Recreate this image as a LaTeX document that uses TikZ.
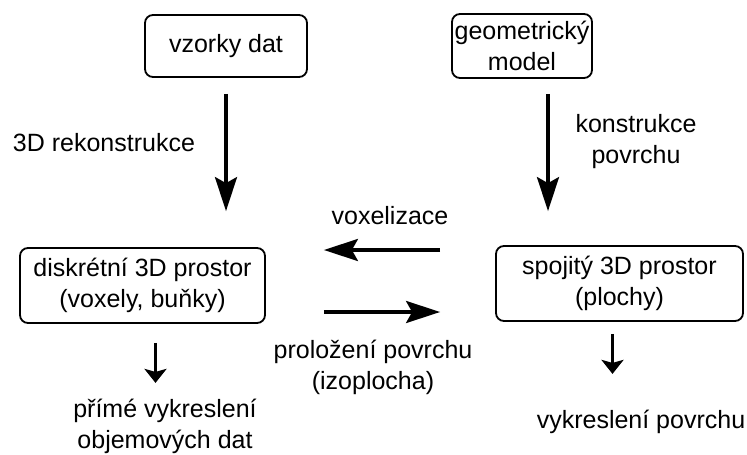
\documentclass[tikz,border=0pt]{standalone}
\usepackage{fontspec}
\setmainfont{Liberation Sans}
\usetikzlibrary{arrows.meta,positioning}
\tikzset{
  box/.style={ % rounded box of one kind of data
    draw, rectangle, rounded corners=8pt, line width=1.8pt,
    align=center, inner sep=2pt, text=black
  },
  txt/.style={ % free text next to an arrow
    align=center, inner sep=0pt, text=black
  },
  bigarrow/.style={ % long transition arrow
    line width=3.4pt, -{Stealth[length=34pt,width=22pt,inset=6pt]}
  },
  smallarrow/.style={ % short arrow to the output
    line width=2.8pt, -{Stealth[length=14pt,width=22pt,inset=3pt]}
  }
}

\begin{document}
\begin{tikzpicture}[
      x=1pt, y=-1pt, font=\fontsize{25}{31}\selectfont
    ]
      \useasboundingbox (0,0) rectangle (747,455);

      \node[box, minimum width=162pt, minimum height=62pt] (A) at (226,46) {vzorky dat};
      \node[box, minimum width=140pt, minimum height=64pt] (B) at (522,46) {geometrický\\model};
      \node[box, minimum width=245pt, minimum height=75pt] (C) at (142.5,285.5) {diskrétní 3D prostor\\(voxely, buňky)};
      \node[box, minimum width=247pt, minimum height=75pt] (D) at (619.5,283.5) {spojitý 3D prostor\\(plochy)};

      \node[txt] (rek_text) at (104,143) {3D rekonstrukce};
      \node[txt] (kon_text) at (636,142) {konstrukce\\povrchu};
      \node[txt] (vox_text) at (390,216) {voxelizace};
      \node[txt] (izo_text) at (373,367) {proložení povrchu\\(izoplocha)};
      \node[txt] (dvr_text) at (165,426) {přímé vykreslení\\objemových dat};
      \node[txt] (sr_text) at (641,422) {vykreslení povrchu};

      \coordinate (vox_y) at (0,250);
      \coordinate (izo_y) at (0,312);

      \draw[bigarrow, shorten <=16pt, shorten >=36pt] (A.south) -- (A.south |- C.north);
      \draw[bigarrow, shorten <=15pt, shorten >=34pt] ([xshift=26pt]B.south) -- ([xshift=26pt]B.south |- D.north);
      \draw[bigarrow, shorten <=55pt, shorten >=58pt] (D.west |- vox_y) -- (C.east |- vox_y);
      \draw[bigarrow, shorten <=58pt, shorten >=55pt] (C.east |- izo_y) -- (D.west |- izo_y);
      \draw[smallarrow, shorten <=19pt] ([xshift=13pt]C.south) -- ++(0,59);
      \draw[smallarrow, shorten <=12pt] ([xshift=-7pt]D.south) -- ++(0,52);
    \end{tikzpicture}
\end{document}
